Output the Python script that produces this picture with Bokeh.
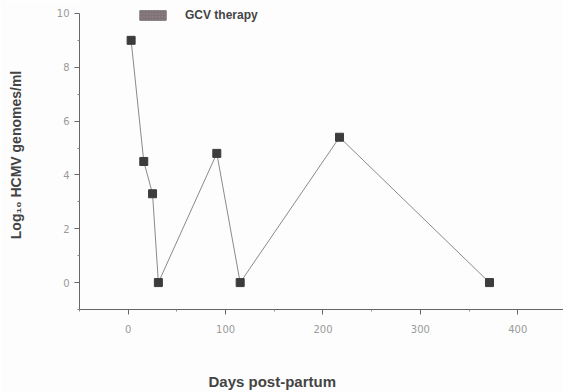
from bokeh.plotting import figure
from bokeh.models import Range1d, Legend, LegendItem, FixedTicker, Title
from bokeh.embed import file_html
from bokeh.resources import INLINE

days = [3, 16, 25, 31, 91, 115, 217, 371]
log_genomes = [9.0, 4.5, 3.3, 0.0, 4.8, 0.0, 5.4, 0.0]
x_ticks = [0, 100, 200, 300, 400]
x_minor = [-50, 50, 150, 250, 350]
y_ticks = [0, 2, 4, 6, 8, 10]
y_minor = [-1, 1, 3, 5, 7, 9]
legend_label = "GCV therapy"

p = figure(width=563, height=392, output_backend="svg", toolbar_location=None,
           x_range=Range1d(-50, 447), y_range=Range1d(-1, 10.48),
           min_border_left=79, min_border_right=0, min_border_top=0, min_border_bottom=83)
p.outline_line_color = None
p.grid.visible = False
p.background_fill_color = "#fdfdfd"
p.border_fill_color = "#fdfdfd"

p.line(days, log_genomes, line_color="#8a8a8a", line_width=1)
p.scatter(days, log_genomes, marker="square", size=8, fill_color="#3c3c3c", line_color="#3c3c3c")

# legend patch (renderer kept outside the visible range; only its legend swatch shows)
leg_r = p.rect(x=[-1000], y=[-1000], width=1, height=1, fill_color="#7d7275", line_color="#7d7275",
               hatch_pattern="dot", hatch_color="#9a8a8e", hatch_scale=3)
legend = Legend(items=[LegendItem(label=legend_label, renderers=[leg_r])],
                location=(57, 287), orientation="horizontal",
                glyph_width=33, glyph_height=12, label_standoff=16,
                padding=0, margin=0, spacing=0, label_height=12,
                border_line_alpha=0, background_fill_alpha=0,
                label_text_font="Liberation Sans", label_text_font_style="bold",
                label_text_font_size="12px", label_text_color="#444444")
p.add_layout(legend, "center")

for ax in (p.xaxis[0], p.yaxis[0]):
    ax.axis_line_color = "#666666"
    ax.major_tick_line_color = "#666666"
    ax.minor_tick_line_color = "#888888"
    ax.major_label_text_color = "#9a9a9a"
    ax.major_label_text_font = "DejaVu Sans"
    ax.major_label_text_font_size = "10px"
    ax.major_tick_out = 5
    ax.major_tick_in = 0
    ax.minor_tick_out = 2
    ax.minor_tick_in = 0

p.xaxis.ticker = FixedTicker(ticks=x_ticks, minor_ticks=x_minor)
p.yaxis.ticker = FixedTicker(ticks=y_ticks, minor_ticks=y_minor)
p.yaxis.bounds = (-1, 10)
p.xaxis.major_label_standoff = 10
p.yaxis.major_label_standoff = 5

p.yaxis.axis_label = "Log\u2081\u2080 HCMV genomes/ml"
p.yaxis.axis_label_text_font = "Liberation Sans"
p.yaxis.axis_label_text_font_style = "bold"
p.yaxis.axis_label_text_font_size = "14px"
p.yaxis.axis_label_text_color = "#444444"
p.yaxis.axis_label_standoff = 30

# spacer between the tick labels and the x title (blank axis label)
p.xaxis.axis_label = " "
p.xaxis.axis_label_text_font_size = "14px"
p.xaxis.axis_label_standoff = 13

xlabel = Title(text="Days post-partum", align="left", offset=129, standoff=6,
               text_font="Liberation Sans", text_font_style="bold",
               text_font_size="15px", text_color="#444444")
p.add_layout(xlabel, "below")

open("out.html", "w").write(file_html(p, INLINE))
